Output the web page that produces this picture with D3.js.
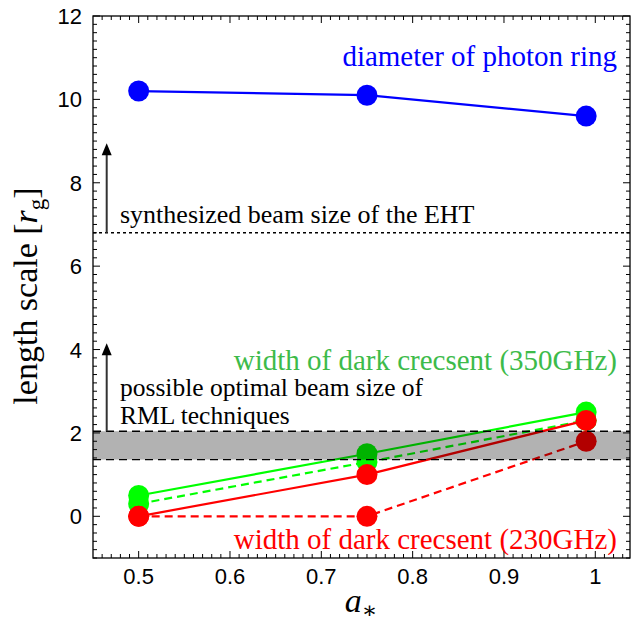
<!DOCTYPE html>
<html><head><meta charset="utf-8">
<script src="https://cdn.jsdelivr.net/npm/d3@7"></script>
<style>body{margin:0;background:#fff}svg{display:block}</style>
</head><body>
<script>
// ---- data ----
const spins = [0.5, 0.75, 0.99];
const photonRing = [10.2, 10.1, 9.6];
const crescent350 = [0.5, 1.5, 2.5];
const crescent350dash = [0.3, 1.3, 2.3];
const crescent230 = [0.0, 1.0, 2.3];
const crescent230dash = [0.0, 0.0, 1.8];
const ehtBeam = 6.8;
const rmlBand = [1.36, 2.04];
const ehtArrow = [6.8, 8.95];
const rmlArrow = [2.04, 4.15];
const arrowX = 0.465;
const xTicks = [0.5, 0.6, 0.7, 0.8, 0.9, 1];
const xTickLabels = ["0.5", "0.6", "0.7", "0.8", "0.9", "1"];
const yTicks = [0, 2, 4, 6, 8, 10, 12];
const yTickLabels = ["0", "2", "4", "6", "8", "10", "12"];

const W = 635, H = 625;
const L = 93, R = 630, T = 16, B = 558;
const svg = d3.select("body").append("svg").attr("width", W).attr("height", H);
const x = d3.scaleLinear().domain([0.45, 1.038]).range([L, R]);
const y = d3.scaleLinear().domain([-1, 12]).range([B, T]);

const serif = "'Liberation Serif', 'DejaVu Serif', serif";
const sans = "'Liberation Sans', Arial, sans-serif";

const line = d3.line().x(d => x(d[0])).y(d => y(d[1]));
function series(vals, color, dashed) {
  const pts = spins.map((s, i) => [s, vals[i]]);
  svg.append("path").attr("d", line(pts)).attr("fill", "none")
    .attr("stroke", color).attr("stroke-width", 2.2)
    .attr("stroke-dasharray", dashed ? "8,5" : null);
  svg.append("g").selectAll("circle").data(pts).join("circle")
    .attr("cx", d => x(d[0])).attr("cy", d => y(d[1])).attr("r", 10.5).attr("fill", color);
}
series(photonRing, "#0000ff", false);
series(crescent350, "#00ff00", false);
series(crescent350dash, "#00ff00", true);
series(crescent230, "#ff0000", false);
series(crescent230dash, "#ff0000", true);

// grey band (translucent black)
svg.append("rect").attr("x", L).attr("width", R - L)
  .attr("y", y(rmlBand[1])).attr("height", y(rmlBand[0]) - y(rmlBand[1]))
  .attr("fill", "#000").attr("fill-opacity", 0.3);
rmlBand.forEach(v => svg.append("line").attr("x1", L).attr("x2", R)
  .attr("y1", y(v)).attr("y2", y(v)).attr("stroke", "#000").attr("stroke-width", 1.3)
  .attr("stroke-dasharray", "8,5"));

// EHT beam dotted line
svg.append("line").attr("x1", L).attr("x2", R).attr("y1", y(ehtBeam)).attr("y2", y(ehtBeam))
  .attr("stroke", "#000").attr("stroke-width", 1.5).attr("stroke-dasharray", "3,3");

// arrows
[ehtArrow, rmlArrow].forEach(a => {
  svg.append("line").attr("x1", x(arrowX)).attr("x2", x(arrowX))
    .attr("y1", y(a[0])).attr("y2", y(a[1]) + 10)
    .attr("stroke", "#333").attr("stroke-width", 2);
  svg.append("path").attr("transform", `translate(${x(arrowX)},${y(a[1])})`)
    .attr("d", "M-5,12 L0,0 L5,12 Z").attr("fill", "#000");
});

// axes frame & ticks
svg.append("rect").attr("x", L).attr("y", T).attr("width", R - L).attr("height", B - T)
  .attr("fill", "none").attr("stroke", "#000").attr("stroke-width", 1.3);
const tk = svg.append("g").attr("stroke", "#000").attr("stroke-width", 1);
const xMinor = d3.range(46, 104).map(v => v / 100);
xMinor.forEach(v => {
  const major = Math.abs(v * 10 - Math.round(v * 10)) < 1e-6;
  const len = major ? 7 : 4;
  tk.append("line").attr("x1", x(v)).attr("x2", x(v)).attr("y1", B).attr("y2", B - len);
  tk.append("line").attr("x1", x(v)).attr("x2", x(v)).attr("y1", T).attr("y2", T + len);
});
const yMinor = d3.range(-5, 61).map(v => v / 5);
yMinor.forEach(v => {
  const major = Math.abs(v / 2 - Math.round(v / 2)) < 1e-6;
  const len = major ? 7 : 4;
  tk.append("line").attr("x1", L).attr("x2", L + len).attr("y1", y(v)).attr("y2", y(v));
  tk.append("line").attr("x1", R).attr("x2", R - len).attr("y1", y(v)).attr("y2", y(v));
});

svg.append("g").selectAll("text").data(xTicks).join("text")
  .attr("x", d => x(d)).attr("y", 584).attr("text-anchor", "middle")
  .attr("font-family", sans).attr("font-size", 22)
  .text((d, i) => xTickLabels[i]);
svg.append("g").selectAll("text").data(yTicks).join("text")
  .attr("x", 82).attr("y", d => y(d) + 8).attr("text-anchor", "end")
  .attr("font-family", sans).attr("font-size", 22)
  .text((d, i) => yTickLabels[i]);

// axis labels
const yl = svg.append("text").attr("transform", "translate(37,296) rotate(-90)")
  .attr("text-anchor", "middle").attr("font-family", serif).attr("font-size", 34);
yl.append("tspan").text("length scale [");
yl.append("tspan").attr("font-style", "italic").text("r");
yl.append("tspan").attr("font-size", 23).attr("dy", 7).text("g");
yl.append("tspan").attr("dy", -7).text("]");

const xl = svg.append("text").attr("x", 361).attr("y", 612).attr("text-anchor", "middle")
  .attr("font-family", serif).attr("font-size", 34);
xl.append("tspan").attr("font-style", "italic").text("a");
xl.append("tspan").attr("font-size", 23).attr("dy", 6).text("∗");

// annotations
function txt(s, xx, yy, color, anchor, size) {
  svg.append("text").attr("x", xx).attr("y", yy).attr("text-anchor", anchor)
    .attr("font-family", serif).attr("font-size", size).attr("fill", color).text(s);
}
txt("diameter of photon ring", 617, 66, "#0000ff", "end", 29);
txt("synthesized beam size of the EHT", 120, 223, "#000", "start", 26);
txt("possible optimal beam size of", 120, 396, "#000", "start", 25.5);
txt("RML techniques", 120, 424, "#000", "start", 25.5);
txt("width of dark crecsent (350GHz)", 617, 370, "#3dbb4a", "end", 29);
txt("width of dark crecsent (230GHz)", 617, 549, "#ff0000", "end", 29);
</script>
</body></html>
